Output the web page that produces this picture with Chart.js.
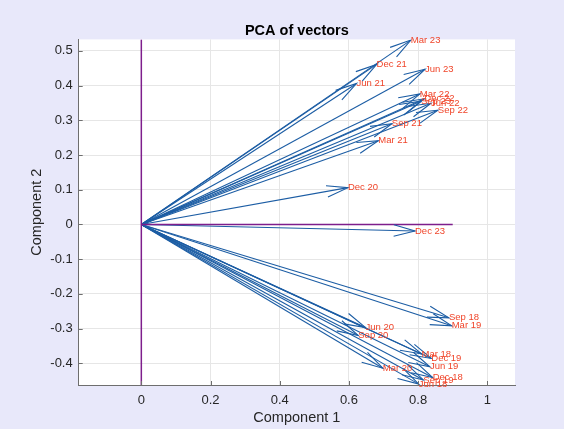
<!DOCTYPE html>
<html><head><meta charset="utf-8">
<script src="https://cdn.jsdelivr.net/npm/chart.js@4"></script>
<style>html,body{margin:0;padding:0;background:#E8E8FA;overflow:hidden;}</style>
</head><body>
<canvas id="c" width="564" height="429"></canvas>
<script>
const quarterLabels = ['Mar 18','Jun 18','Sep 18','Dec 18','Mar 19','Jun 19','Sep 19','Dec 19',
  'Mar 20','Jun 20','Sep 20','Dec 20','Mar 21','Jun 21','Sep 21','Dec 21',
  'Mar 22','Jun 22','Sep 22','Dec 22','Mar 23','Jun 23','Sep 23','Dec 23'];
const comp1 = [0.810,0.802,0.889,0.842,0.897,0.834,0.815,0.838,
  0.698,0.648,0.627,0.597,0.685,0.622,0.724,0.680,
  0.805,0.837,0.857,0.818,0.779,0.820,0.808,0.791];
const comp2 = [-0.373,-0.460,-0.269,-0.441,-0.292,-0.410,-0.448,-0.386,
  -0.414,-0.297,-0.320,0.106,0.241,0.406,0.290,0.461,
  0.376,0.349,0.329,0.362,0.531,0.447,0.355,-0.019];
const xTickValues = [0,0.2,0.4,0.6,0.8,1];
const yTickValues = [-0.4,-0.3,-0.2,-0.1,0,0.1,0.2,0.3,0.4,0.5];
const xRange = [-0.181, 1.080];
const yRange = [-0.4625, 0.533];
const refVertical = [{x:0,y:yRange[0]},{x:0,y:yRange[1]}];
const refHorizontal = [{x:0,y:0},{x:0.9,y:0}];

const FONT = '"Liberation Sans", Arial, Helvetica, sans-serif';
Chart.defaults.font.family = FONT;
const BLUE = '#1C5DA4';
const PURPLE = '#7E1E8C';
const LABEL_RED = '#F0452A';
const AXIS = '#6E6E6E';
const TXT = '#262626';

const datasets = [
  {data: refVertical, borderColor: PURPLE, borderWidth: 1.5, pointRadius: 0, showLine: true},
  {data: refHorizontal, borderColor: PURPLE, borderWidth: 1.5, pointRadius: 0, showLine: true}
];
comp1.forEach((x, i) => {
  datasets.push({data: [{x:0,y:0},{x:x,y:comp2[i]}], borderColor: BLUE, borderWidth: 1.1, pointRadius: 0, showLine: true});
});

const bgPlugin = {
  id: 'bg',
  beforeDraw(chart) {
    const {ctx, chartArea: a} = chart;
    ctx.save();
    ctx.fillStyle = '#E8E8FA';
    ctx.fillRect(0, 0, chart.width, chart.height);
    ctx.fillStyle = '#FFFFFF';
    ctx.fillRect(a.left, a.top, a.right - a.left, a.bottom - a.top);
    ctx.restore();
  }
};

const arrowPlugin = {
  id: 'arrows',
  afterDatasetsDraw(chart) {
    const {ctx, chartArea: a, scales: {x: xs, y: ys}} = chart;
    const ox = xs.getPixelForValue(0), oy = ys.getPixelForValue(0);
    ctx.save();
    ctx.beginPath();
    ctx.rect(a.left, a.top, a.right - a.left, a.bottom - a.top);
    ctx.clip();
    ctx.strokeStyle = BLUE;
    ctx.lineWidth = 1.1;
    const L = 22, ang = 15 * Math.PI / 180;
    comp1.forEach((v, i) => {
      const tx = xs.getPixelForValue(v), ty = ys.getPixelForValue(comp2[i]);
      const th = Math.atan2(ty - oy, tx - ox) + Math.PI;
      ctx.beginPath();
      ctx.moveTo(tx + L * Math.cos(th + ang), ty + L * Math.sin(th + ang));
      ctx.lineTo(tx, ty);
      ctx.lineTo(tx + L * Math.cos(th - ang), ty + L * Math.sin(th - ang));
      ctx.stroke();
    });
    ctx.restore();
    // inward tick marks
    ctx.save();
    ctx.strokeStyle = AXIS;
    ctx.lineWidth = 1;
    xTickValues.forEach(v => {
      const px = Math.round(xs.getPixelForValue(v)) + 0.5;
      ctx.beginPath(); ctx.moveTo(px, a.bottom); ctx.lineTo(px, a.bottom - 4); ctx.stroke();
    });
    yTickValues.forEach(v => {
      const py = Math.round(ys.getPixelForValue(v)) + 0.5;
      ctx.beginPath(); ctx.moveTo(a.left, py); ctx.lineTo(a.left + 4, py); ctx.stroke();
    });
    // labels
    ctx.fillStyle = LABEL_RED;
    ctx.font = '9.5px ' + FONT;
    ctx.textAlign = 'left';
    ctx.textBaseline = 'middle';
    comp1.forEach((v, i) => {
      ctx.fillText(quarterLabels[i], xs.getPixelForValue(v), ys.getPixelForValue(comp2[i]));
    });
    ctx.restore();
  }
};

const fmt = v => String(Number(Number(v).toFixed(1)));

new Chart(document.getElementById('c'), {
  type: 'scatter',
  data: {datasets},
  options: {
    responsive: false,
    animation: false,
    devicePixelRatio: 1,
    layout: {padding: {left: 0, right: 49, top: 0, bottom: 0}},
    plugins: {
      legend: {display: false},
      tooltip: {enabled: false},
      title: {display: true, text: 'PCA of vectors', fullSize: false, color: '#000',
        font: {size: 14.5, weight: 'bold', family: FONT}, padding: {top: 22, bottom: 0}}
    },
    scales: {
      x: {
        type: 'linear', min: xRange[0], max: xRange[1],
        afterBuildTicks: s => { s.ticks = xTickValues.map(v => ({value: v})); },
        afterFit: s => { s.height = 44; },
        ticks: {callback: fmt, color: TXT, font: {size: 13}, padding: 8, maxRotation: 0, autoSkip: false},
        grid: {color: '#E6E6E6', drawTicks: false},
        border: {color: AXIS, width: 1},
        title: {display: true, text: 'Component 1', color: TXT, font: {size: 14.5}, padding: {top: 0, bottom: 2}}
      },
      y: {
        type: 'linear', min: yRange[0], max: yRange[1],
        afterBuildTicks: s => { s.ticks = yTickValues.map(v => ({value: v})); },
        afterFit: s => { s.width = 78.7; },
        ticks: {callback: fmt, color: TXT, font: {size: 13}, padding: 6, autoSkip: false},
        grid: {color: '#E6E6E6', drawTicks: false},
        border: {color: AXIS, width: 1},
        title: {display: true, text: 'Component 2', color: TXT, font: {size: 14.5}, padding: {top: 28, bottom: 0}}
      }
    }
  },
  plugins: [bgPlugin, arrowPlugin]
});
</script>
</body></html>
